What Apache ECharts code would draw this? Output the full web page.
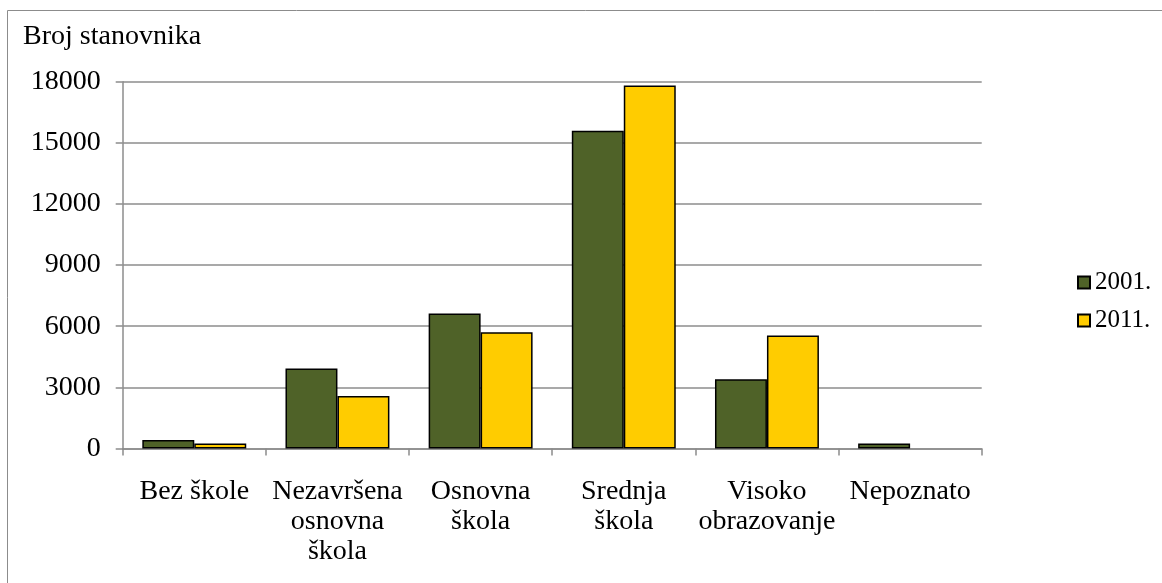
<!DOCTYPE html>
<html>
<head>
<meta charset="utf-8">
<script src="https://cdn.jsdelivr.net/npm/echarts@6/dist/echarts.min.js"></script>
<style>
  html, body { margin: 0; padding: 0; background: #fff; }
  #main { width: 1162px; height: 583px; }
</style>
</head>
<body>
<div id="main"></div>
<script>
// categories and values
const categories = [
  "Bez škole",
  "Nezavršena\nosnovna\nškola",
  "Osnovna\nškola",
  "Srednja\nškola",
  "Visoko\nobrazovanje",
  "Nepoznato",
];
const years = ["2001.", "2011."];
const values2001 = [420, 3920, 6620, 15590, 3400, 250];
const values2011 = [240, 2580, 5700, 17810, 5540, 0];
const yTicks = { min: 0, max: 18000, interval: 3000 };

const font = "'Liberation Serif', 'Times New Roman', serif";
const gridGray = "#8c8c8c";

const chart = echarts.init(document.getElementById("main"));

const barBorder = { borderColor: "#000", borderWidth: 1.5 };
// zero-height bars show no outline in the original
const barData = (arr) =>
  arr.map((v) => (v === 0 ? { value: v, itemStyle: { borderWidth: 0 } } : v));

chart.setOption({
  animation: false,
  textStyle: { fontFamily: font, color: "#000" },
  graphic: [
    {
      type: "rect",
      shape: { x: 7.5, y: 10.5, width: 1200, height: 700 },
      style: { fill: "none", stroke: "#8c8c8c", lineWidth: 1 },
      silent: true,
    },
  ],
  title: {
    text: "Broj stanovnika",
    left: 23,
    top: 23,
    padding: 0,
    textStyle: { fontFamily: font, fontSize: 28, fontWeight: "normal", color: "#000" },
  },
  legend: {
    data: years,
    orient: "vertical",
    left: 1077,
    top: 270,
    padding: 0,
    itemWidth: 12,
    itemHeight: 12,
    itemGap: 13,
    icon: "rect",
    textStyle: { fontFamily: font, fontSize: 25, color: "#000", padding: [0, 0, 0, 0] },
  },
  grid: { left: 122.7, right: 180.3, top: 81.7, bottom: 134.5, containLabel: false },
  xAxis: {
    type: "category",
    data: categories,
    axisLine: { lineStyle: { color: gridGray, width: 1.5 } },
    axisTick: { show: true, length: 7, lineStyle: { color: gridGray, width: 1.5 } },
    axisLabel: {
      fontFamily: font,
      fontSize: 28,
      color: "#000",
      margin: 28,
      lineHeight: 30,
      interval: 0,
    },
  },
  yAxis: {
    type: "value",
    min: yTicks.min,
    max: yTicks.max,
    interval: yTicks.interval,
    axisLine: { show: true, lineStyle: { color: gridGray, width: 1.5 } },
    axisTick: { show: true, length: 7, lineStyle: { color: gridGray, width: 1.5 } },
    splitLine: { lineStyle: { color: gridGray, width: 1.5 } },
    axisLabel: {
      fontFamily: font,
      fontSize: 28,
      color: "#000",
      margin: 22,
      formatter: (v) => String(v),
    },
  },
  series: [
    {
      name: years[0],
      type: "bar",
      data: barData(values2001),
      barGap: "0%",
      barCategoryGap: "27.4%",
      itemStyle: { color: "#4F6228", ...barBorder },
    },
    {
      name: years[1],
      type: "bar",
      data: barData(values2011),
      itemStyle: { color: "#FFCC00", ...barBorder },
    },
  ],
});
</script>
</body>
</html>
